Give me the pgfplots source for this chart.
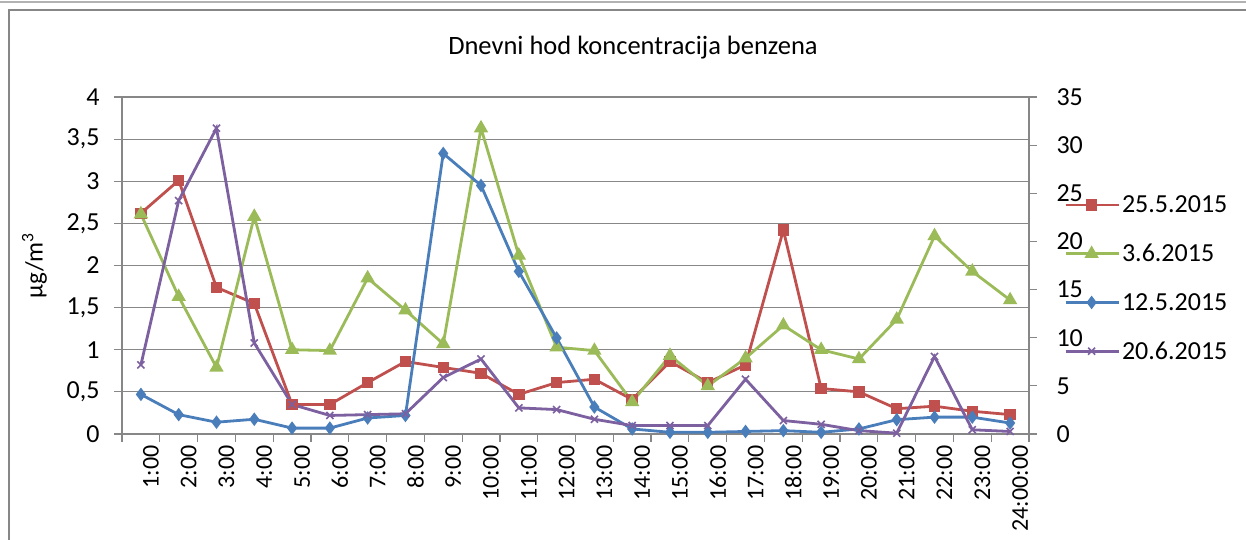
\documentclass[border=0pt]{standalone}
\usepackage{pgfplots}
\pgfplotsset{compat=1.18}
\usepackage{fontspec}
\setmainfont{Carlito}
\definecolor{cred}{HTML}{C0504D}
\definecolor{cgreen}{HTML}{9BBB59}
\definecolor{cblue}{HTML}{4A7EBB}
\definecolor{cpurple}{HTML}{7D60A0}
\definecolor{cgrid}{HTML}{878787}
\pgfplotstableread{
x red green blue purple
0.5 2.62 2.61 0.47 0.82
1.5 3.01 1.63 0.23 2.77
2.5 1.74 0.79 0.14 3.63
3.5 1.55 2.58 0.175 1.08
4.5 0.35 1.00 0.07 0.35
5.5 0.35 0.99 0.07 0.22
6.5 0.61 1.85 0.19 0.23
7.5 0.86 1.47 0.22 0.24
8.5 0.79 1.07 3.33 0.67
9.5 0.72 3.63 2.95 0.89
10.5 0.47 2.12 1.93 0.31
11.5 0.61 1.03 1.14 0.29
12.5 0.65 0.99 0.32 0.175
13.5 0.41 0.38 0.06 0.10
14.5 0.86 0.93 0.02 0.10
15.5 0.61 0.57 0.02 0.10
16.5 0.82 0.90 0.03 0.65
17.5 2.42 1.29 0.04 0.16
18.5 0.54 1.00 0.02 0.115
19.5 0.50 0.89 0.06 0.04
20.5 0.30 1.36 0.17 0.01
21.5 0.33 2.35 0.20 0.92
22.5 0.27 1.93 0.20 0.05
23.5 0.23 1.59 0.13 0.03
}\datatable
\begin{document}
\begin{tikzpicture}
\useasboundingbox (0pt,0pt) rectangle (1246pt,540pt);
\draw[color=gray!60, line width=1.2pt] (0pt,538pt) -- (1246pt,538pt);
\draw[color=cgrid, line width=1.6pt] (9pt,-5pt) -- (9pt,530pt) -- (1250pt,530pt);
\node[font=\fontsize{26.5}{30}\selectfont] at (633pt,492pt) {Dnevni hod koncentracija benzena};
\begin{axis}[
  at={(122pt,106pt)}, anchor=south west,
  scale only axis, width=907pt, height=337pt,
  xmin=0, xmax=24, ymin=0, ymax=4,
  ytick={0,0.5,...,4},
  /pgf/number format/assume math mode=true,
  /pgf/number format/use comma,
  yticklabel style={font=\fontsize{26}{30}\selectfont, xshift=-11pt},
  xtick={0.5,1.5,...,23.5},
  xticklabels={1:00,2:00,3:00,4:00,5:00,6:00,7:00,8:00,9:00,10:00,11:00,12:00,13:00,14:00,15:00,16:00,17:00,18:00,19:00,20:00,21:00,22:00,23:00,24:00:00},
  xticklabel style={font=\fontsize{24}{28}\selectfont, rotate=90, anchor=east, yshift=-10pt},
  major x tick style={draw=none},
  minor xtick={0,1,...,24},
  minor tick length=8pt,
  major tick length=8pt,
  tick align=outside,
  tick style={color=cgrid, line width=1.2pt},
  axis x line*=bottom, axis y line*=left,
  axis line style={color=cgrid, line width=1.2pt, -},
  ymajorgrids, grid style={color=cgrid, line width=1.2pt},
  ylabel={µg/m\textsuperscript{3}},
  ylabel style={font=\fontsize{25}{28}\selectfont, at={(axis description cs:-0.079,0.5)}, anchor=south},
  legend style={at={(axis description cs:1.0386,0.462)}, anchor=west, draw=none, fill=none,
    font=\fontsize{26}{30}\selectfont, inner sep=0pt, row sep=26pt, cells={anchor=west}},
  legend image code/.code={\draw[mark repeat=2,mark phase=2] plot coordinates {(-4pt,0pt) (22pt,0pt) (49pt,0pt)};},
  every axis plot/.append style={line width=2.8pt},
  clip=false,
]
\addplot[cred, mark=square*, mark size=4.3pt, mark options={solid}] table[x=x,y=red] {\datatable};
\addlegendentry{25.5.2015}
\addplot[cgreen, mark=triangle*, mark size=5.5pt] table[x=x,y=green] {\datatable};
\addlegendentry{3.6.2015}
\addplot[cblue, mark=diamond*, mark size=4.5pt] table[x=x,y=blue] {\datatable};
\addlegendentry{12.5.2015}
\addplot[cpurple, mark=x, mark size=5pt, mark options={line width=1.6pt}] table[x=x,y=purple] {\datatable};
\addlegendentry{20.6.2015}
\end{axis}
\begin{axis}[
  at={(122pt,106pt)}, anchor=south west,
  scale only axis, width=907pt, height=337pt,
  xmin=0, xmax=24, ymin=0, ymax=35,
  ytick={0,5,...,35},
  /pgf/number format/assume math mode=true,
  axis y line*=right, axis x line=none,
  yticklabel style={font=\fontsize{26}{30}\selectfont, anchor=west, xshift=16pt},
  major tick length=8pt, tick align=outside,
  tick style={color=cgrid, line width=1.2pt},
  axis line style={color=cgrid, line width=1.2pt, -},
]
\addplot[draw=none] coordinates {(0,0)};
\end{axis}
\end{tikzpicture}
\end{document}
